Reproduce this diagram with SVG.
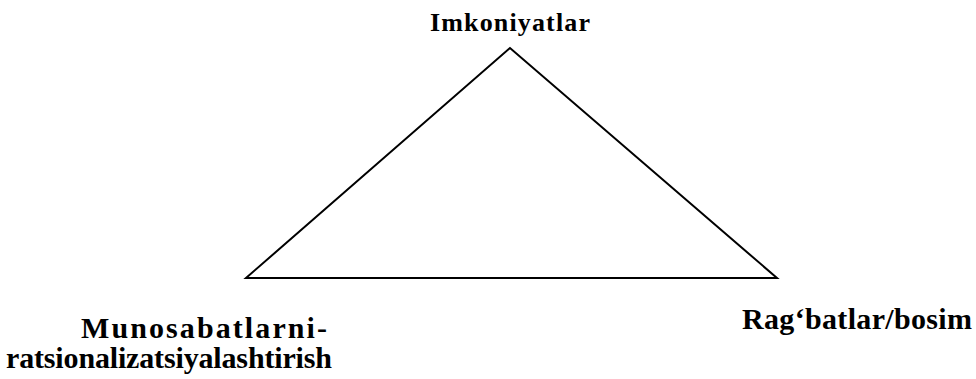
<svg xmlns="http://www.w3.org/2000/svg" width="976" height="379" viewBox="0 0 976 379">
<style>
.lbl{font-family:"Liberation Serif","Times New Roman",serif;font-weight:bold;fill:#000;}
.edge{fill:none;stroke:#000;stroke-width:2;stroke-linejoin:miter;}
</style>
<rect width="976" height="379" fill="#fff"/>
<g id="connectors">
<polygon class="edge" points="510,48 246,278 777,278"/>
</g>
<g id="node-imkoniyatlar">
<text class="lbl" x="510" y="31" font-size="26" text-anchor="middle" textLength="160" lengthAdjust="spacing">Imkoniyatlar</text>
</g>
<g id="node-munosabatlar">
<text class="lbl" x="204" y="338" font-size="30" text-anchor="middle" textLength="246" lengthAdjust="spacing">Munosabatlarni-</text>
<text class="lbl" x="169" y="368" font-size="30" text-anchor="middle" textLength="326" lengthAdjust="spacing">ratsionalizatsiyalashtirish</text>
</g>
<g id="node-ragbatlar">
<text class="lbl" x="857" y="329" font-size="30" text-anchor="middle" textLength="230" lengthAdjust="spacing">Rag‘batlar/bosim</text>
</g>
</svg>
